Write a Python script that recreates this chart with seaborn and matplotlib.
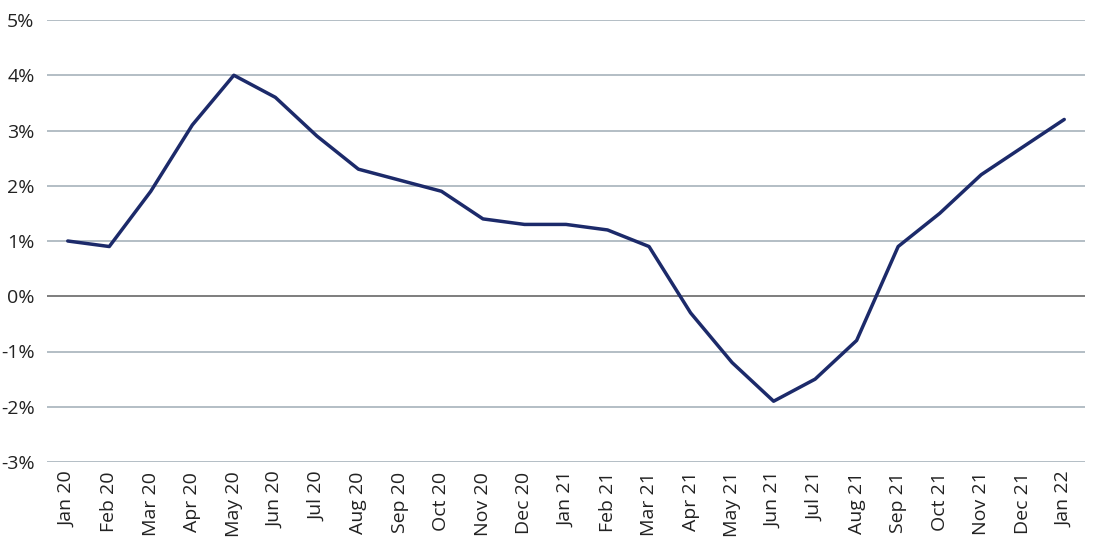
import matplotlib
matplotlib.use("Agg")
import matplotlib.pyplot as plt
import seaborn as sns
import pandas as pd
from matplotlib.ticker import FuncFormatter

months = ["Jan 20", "Feb 20", "Mar 20", "Apr 20", "May 20", "Jun 20", "Jul 20", "Aug 20",
          "Sep 20", "Oct 20", "Nov 20", "Dec 20", "Jan 21", "Feb 21", "Mar 21", "Apr 21",
          "May 21", "Jun 21", "Jul 21", "Aug 21", "Sep 21", "Oct 21", "Nov 21", "Dec 21", "Jan 22"]
values = [1.0, 0.9, 1.9, 3.1, 4.0, 3.6, 2.9, 2.3, 2.1, 1.9, 1.4, 1.3, 1.3, 1.2, 0.9, -0.3,
          -1.2, -1.9, -1.5, -0.8, 0.9, 1.5, 2.2, 2.7, 3.2]
y_ticks = [-3, -2, -1, 0, 1, 2, 3, 4, 5]

sns.set_theme(style="white")
plt.rcParams['font.family'] = ['Open Sans', 'DejaVu Sans']

df = pd.DataFrame({"month": months, "value": values, "pos": range(len(months))})

fig = plt.figure(figsize=(11, 5.5), dpi=100)
ax = fig.add_axes([47/1100, 1 - 462/550, (1085-47)/1100, (462-20)/550])

for t in y_ticks:
    if t == 0:
        ax.axhline(t, color="#5a5a5a", lw=1.1, zorder=1)
    else:
        ax.axhline(t, color="#a7b3bb", lw=1.2, zorder=1)

sns.lineplot(data=df, x="pos", y="value", ax=ax, color="#1c2a6a", lw=2.5, zorder=3)

ax.set_xlim(-0.5, len(months) - 0.5)
ax.set_ylim(-3, 5)
ax.set_yticks(y_ticks)
ax.yaxis.set_major_formatter(FuncFormatter(lambda v, p: f"{int(v)}%"))
ax.set_xticks(range(len(months)))
ax.set_xticklabels(months, rotation=90)
ax.tick_params(axis="both", length=0, labelsize=14, colors="#222222")
ax.tick_params(axis="y", pad=9)
ax.tick_params(axis="x", pad=7)
ax.set_xlabel("")
ax.set_ylabel("")
for s in ax.spines.values():
    s.set_visible(False)

fig.savefig("out.png", dpi=100)
